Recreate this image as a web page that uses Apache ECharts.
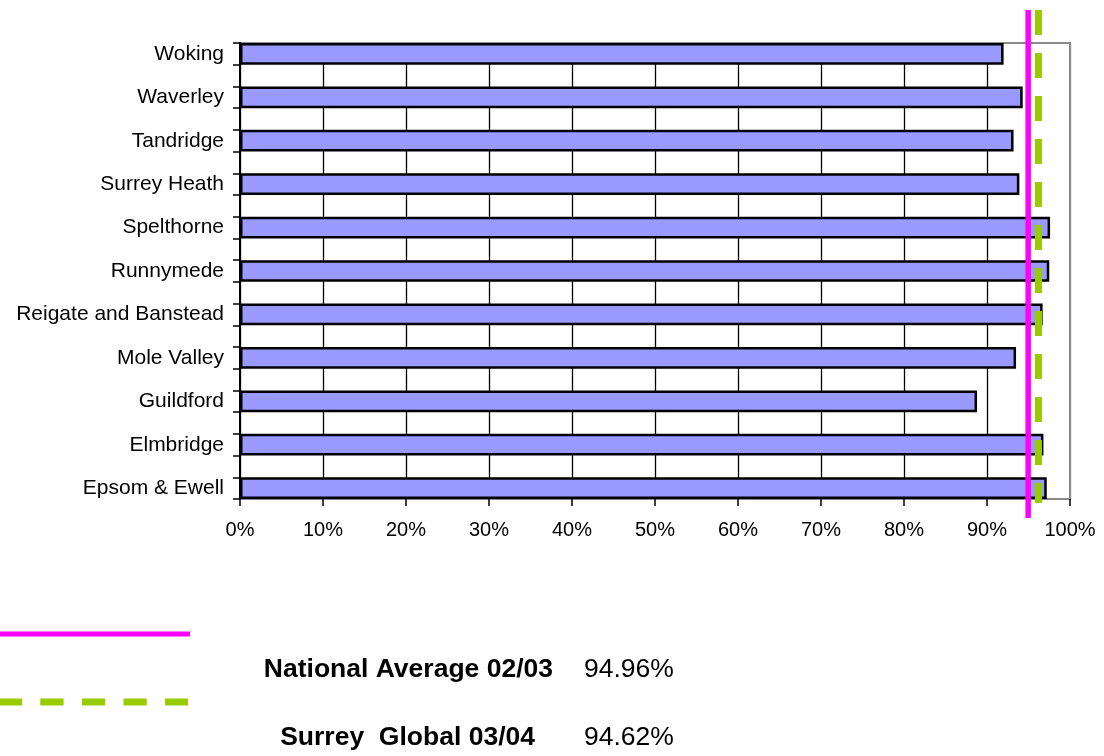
<!DOCTYPE html>
<html>
<head>
<meta charset="utf-8">
<script src="https://cdn.jsdelivr.net/npm/echarts@6/dist/echarts.min.js"></script>
<style>
html,body{margin:0;padding:0;background:#fff;}
#chart{width:1104px;height:756px;}
</style>
</head>
<body>
<div id="chart"></div>
<script>
// ---- data ----
const categories = ['Woking','Waverley','Tandridge','Surrey Heath','Spelthorne','Runnymede','Reigate and Banstead','Mole Valley','Guildford','Elmbridge','Epsom & Ewell'];
const values = [92.0, 94.3, 93.2, 93.9, 97.6, 97.5, 96.7, 93.5, 88.8, 96.8, 97.2];
const tickLabels = ['0%','10%','20%','30%','40%','50%','60%','70%','80%','90%','100%'];
const nationalLine = 94.96;
const surreyLine = 96.2;
const legendLabels = ['National Average 02/03', 'Surrey  Global 03/04'];
const legendValues = ['94.96%', '94.62%'];

// category slots: each district followed by an empty slot
const slotCats = [], slotVals = [];
categories.forEach((c, i) => {
  slotCats.push(c); slotVals.push(values[i]);
  if (i < categories.length - 1) { slotCats.push(''); slotVals.push('-'); }
});

const FONT = '"Liberation Sans", Arial, sans-serif';
const gridColors = tickLabels.map((t, i) => i === tickLabels.length - 1 ? '#8a8a8a' : '#000000');

const chart = echarts.init(document.getElementById('chart'), null, {renderer: 'canvas'});
chart.setOption({
  animation: false,
  backgroundColor: '#ffffff',
  grid: [
    {left: 240, right: 34, top: 43, bottom: 257, show: true, borderColor: '#8a8a8a', borderWidth: 2, containLabel: false},
    {left: 240, right: 34, top: 10, bottom: 238},
    {left: 240, right: 34, top: 10, bottom: 253}
  ],
  xAxis: [
    {
      gridIndex: 0, type: 'value', min: 0, max: 100, interval: 10,
      axisLine: {show: true, lineStyle: {color: '#8a8a8a', width: 2}},
      axisTick: {show: true, length: 7, lineStyle: {color: '#000', width: 1.5}},
      axisLabel: {margin: 21, color: '#000', fontSize: 20, fontFamily: FONT,
        formatter: v => tickLabels[Math.round(v / 10)]},
      splitLine: {show: true, lineStyle: {color: gridColors, width: 1.3}}
    },
    {gridIndex: 1, type: 'value', min: 0, max: 100, show: false},
    {gridIndex: 2, type: 'value', min: 0, max: 100, show: false}
  ],
  yAxis: [
    {
      gridIndex: 0, type: 'category', data: slotCats, inverse: true,
      axisLine: {show: true, lineStyle: {color: '#000', width: 2}},
      axisTick: {show: true, interval: 0, length: 7, lineStyle: {color: '#000', width: 1.5}},
      axisLabel: {interval: 0, margin: 16, color: '#000', fontSize: 21, fontFamily: FONT},
      splitLine: {show: false}
    },
    {gridIndex: 1, type: 'value', min: 0, max: 1, inverse: true, show: false},
    {gridIndex: 2, type: 'value', min: 0, max: 1, inverse: true, show: false}
  ],
  series: [
    {
      type: 'bar', xAxisIndex: 0, yAxisIndex: 0, data: slotVals,
      barWidth: '100%', barCategoryGap: '0%',
      itemStyle: {color: '#9999FF', borderColor: '#000', borderWidth: 2.5},
      silent: true, z: 3
    },
    {
      type: 'line', xAxisIndex: 1, yAxisIndex: 1,
      data: [[nationalLine, 0], [nationalLine, 1]],
      symbol: 'none', silent: true, z: 5,
      lineStyle: {color: '#FF00FF', width: 5.5, type: 'solid', cap: 'butt'}
    },
    {
      type: 'line', xAxisIndex: 2, yAxisIndex: 2,
      data: [[surreyLine, 0], [surreyLine, 1]],
      symbol: 'none', silent: true, z: 6,
      lineStyle: {color: '#99CC00', width: 7, type: [25, 18], cap: 'butt'}
    }
  ],
  graphic: [
    {type: 'line', shape: {x1: 0, y1: 634, x2: 190, y2: 634}, style: {stroke: '#FF00FF', lineWidth: 5}},
    {type: 'line', shape: {x1: 0, y1: 702, x2: 188, y2: 702}, style: {stroke: '#99CC00', lineWidth: 7, lineDash: [23.3, 18.3], lineDashOffset: 1.3}},
    {type: 'text', x: 553, y: 670, style: {text: legendLabels[0], font: 'bold 26.5px ' + FONT, fill: '#000', align: 'right', verticalAlign: 'middle'}},
    {type: 'text', x: 584, y: 670, style: {text: legendValues[0], font: '26.5px ' + FONT, fill: '#000', align: 'left', verticalAlign: 'middle'}},
    {type: 'text', x: 535, y: 738, style: {text: legendLabels[1], font: 'bold 26.5px ' + FONT, fill: '#000', align: 'right', verticalAlign: 'middle'}},
    {type: 'text', x: 584, y: 738, style: {text: legendValues[1], font: '26.5px ' + FONT, fill: '#000', align: 'left', verticalAlign: 'middle'}}
  ]
});
</script>
</body>
</html>
